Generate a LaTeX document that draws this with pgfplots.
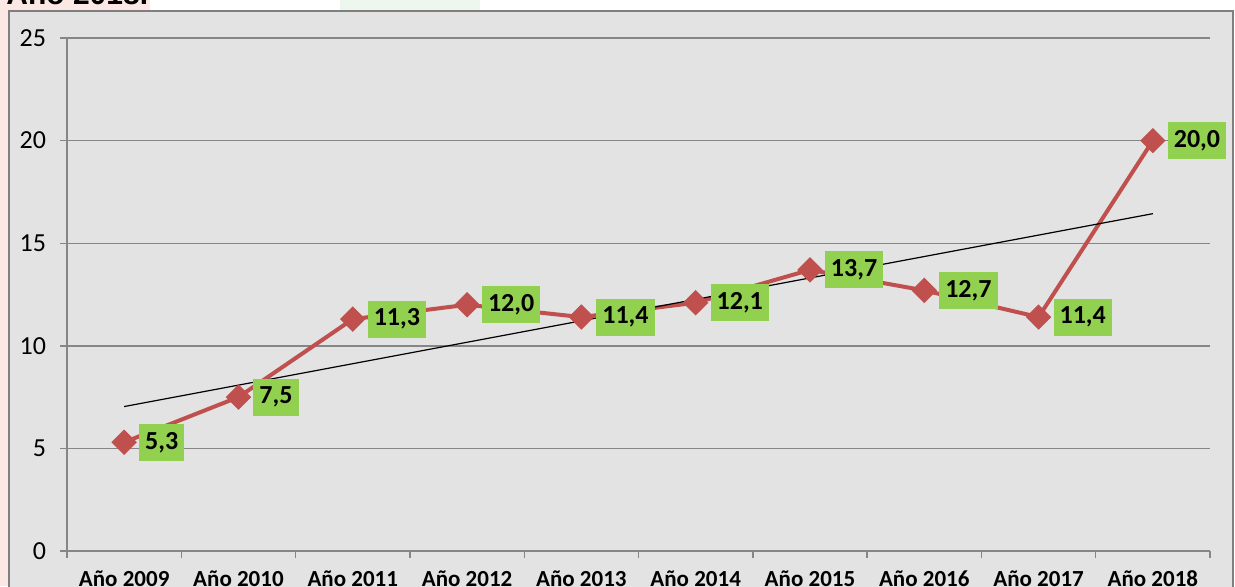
\documentclass[border=0pt]{standalone}
\usepackage{pgfplots}
\pgfplotsset{compat=1.18}
\usepackage{fontspec}
\setmainfont{Carlito}
\newfontfamily\arialfont{Liberation Sans}
\definecolor{serie}{HTML}{C0504D}
\definecolor{lblgreen}{HTML}{92D050}
\definecolor{bggray}{HTML}{E3E3E3}
\definecolor{axgray}{HTML}{868686}
\definecolor{framegray}{HTML}{7F7F7F}
\definecolor{pinkbg}{HTML}{FBE7E4}
\definecolor{greenbg}{HTML}{EEF7EE}
\begin{document}
\begin{tikzpicture}
\path[use as bounding box] (0pt,0pt) rectangle (617.5pt,293pt);
\clip (0pt,0pt) rectangle (617.5pt,293pt);
\fill[white] (0pt,0pt) rectangle (617.5pt,293pt);
\fill[pinkbg] (0pt,0pt) rectangle (4.5pt,293pt);
\fill[pinkbg] (0pt,287pt) rectangle (75pt,293pt);
\fill[greenbg] (170pt,287pt) rectangle (240pt,293pt);
\filldraw[fill=bggray, draw=framegray, line width=1pt] (4.5pt,-5pt) rectangle (616.5pt,287.5pt);
\node[anchor=base west, inner sep=0pt, font=\arialfont\bfseries\fontsize{15}{18}\selectfont] at (3pt,291pt) {Ano 2018.};
\begin{axis}[
  at={(33.5pt,17.5pt)}, anchor=south west,
  scale only axis, width=571.5pt, height=256.5pt,
  xmin=-0.5, xmax=9.5, ymin=0, ymax=25,
  axis x line*=bottom, axis y line*=left,
  axis line style={draw=axgray, line width=0.7pt},
  ytick={0,5,10,15,20,25},
  xtick={0,1,2,3,4,5,6,7,8,9},
  xticklabels={Año 2009,Año 2010,Año 2011,Año 2012,Año 2013,Año 2014,Año 2015,Año 2016,Año 2017,Año 2018},
  minor xtick={-0.5,0.5,1.5,2.5,3.5,4.5,5.5,6.5,7.5,8.5,9.5},
  tick align=outside,
  major tick length=3.5pt, minor tick length=3.5pt,
  every major x tick/.append style={draw=none},
  tick style={draw=axgray, line width=0.7pt},
  ymajorgrids, major grid style={draw=axgray, line width=0.7pt},
  /pgf/number format/assume math mode=true,
  yticklabel style={font=\fontsize{13}{15}\selectfont, text=black, xshift=-3.5pt},
  xticklabel style={font=\bfseries\fontsize{11.5}{14}\selectfont, text=black, yshift=-3pt},
  clip=false,
]
\addplot[serie, line width=2pt, mark=square*, mark size=3.5pt, mark options={rotate=45, fill=serie, draw=serie},
  nodes near coords={\pgfmathprintnumber[fixed,fixed zerofill,precision=1,use comma]{\pgfplotspointmeta}},
  nodes near coords style={anchor=west, xshift=6.5pt, fill=lblgreen, text=black, font=\bfseries\fontsize{13}{15}\selectfont, inner xsep=3pt, inner ysep=2pt, minimum height=18.5pt},
] coordinates {
  (0,5.3) (1,7.5) (2,11.3) (3,12.0) (4,11.4) (5,12.1) (6,13.7) (7,12.7) (8,11.4) (9,20.0)
};
\addplot[black, line width=0.6pt] coordinates {(0,7.04) (9,16.44)};
\end{axis}
\end{tikzpicture}
\end{document}
